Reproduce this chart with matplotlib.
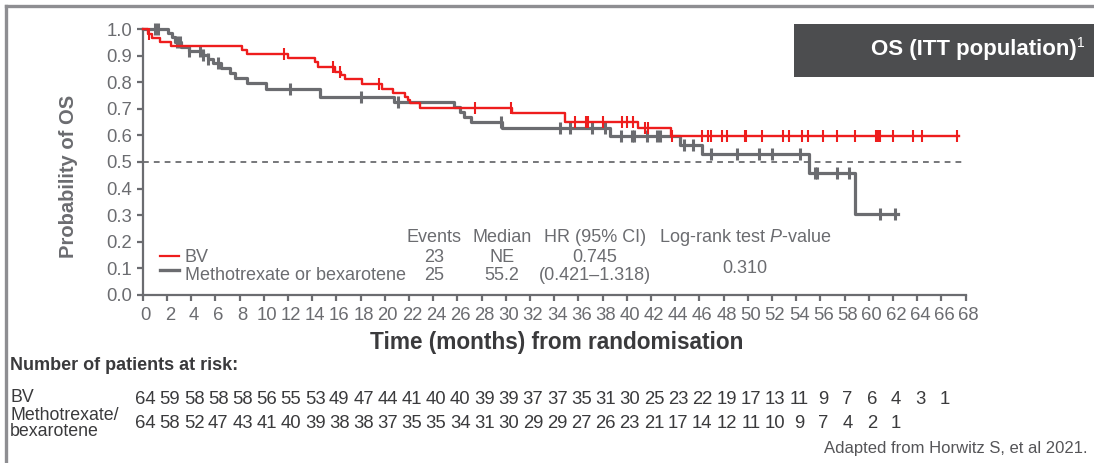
import numpy as np
import matplotlib
matplotlib.use("Agg")
import matplotlib.pyplot as plt
from matplotlib.lines import Line2D
from matplotlib.patches import Rectangle
import matplotlib.transforms as mtransforms

plt.rcParams['font.family'] = ['Liberation Sans', 'DejaVu Sans']
plt.rcParams['mathtext.fontset'] = 'custom'
plt.rcParams['mathtext.rm'] = 'Liberation Sans'
plt.rcParams['mathtext.it'] = 'Liberation Sans:italic'

# ---------------- data ----------------
bv_event_times = [0.46, 0.75, 1.4, 2.3, 8.2, 8.6, 12.0, 14.2, 14.5, 15.9, 16.4, 16.7, 18.1,
                  19.8, 20.7, 21.7, 21.9, 22.1, 22.9, 30.5, 34.9, 40.9, 43.7]
bv_surv = [0.984, 0.969, 0.953, 0.938, 0.922, 0.906, 0.891, 0.875, 0.859, 0.840, 0.828, 0.811,
           0.793, 0.774, 0.759, 0.746, 0.734, 0.723, 0.703, 0.683, 0.652, 0.627, 0.599]
bv_end = 67.5
bv_censor = [0.5, 11.7, 15.75, 16.3, 19.5, 27.5, 30.4, 35.7, 36.6, 36.7, 36.8, 38.0, 39.6, 40.0,
             40.5, 41.5, 41.8, 43.75, 46.2, 46.7, 47.0, 47.9, 48.3, 49.8, 49.9, 51.2, 52.9, 53.4,
             54.5, 55.0, 56.2, 57.4, 58.9, 60.6, 60.7, 60.8, 60.9, 62.0, 63.7, 64.4, 67.3]

mb_event_times = [2.1, 2.4, 2.7, 3.2, 3.8, 5.0, 5.4, 5.8, 6.5, 7.2, 7.6, 8.6, 10.2, 14.65, 20.8,
                  25.7, 26.2, 26.55, 27.1, 29.7, 38.6, 44.4, 46.2, 55.1, 58.9]
mb_surv = [0.985, 0.970, 0.953, 0.934, 0.919, 0.903, 0.887, 0.872, 0.853, 0.834, 0.815, 0.797,
           0.774, 0.746, 0.727, 0.708, 0.690, 0.671, 0.652, 0.627, 0.598, 0.564, 0.529, 0.457, 0.305]
mb_end = 62.4
mb_censor = [1.0, 1.3, 2.8, 3.1, 3.8, 4.7, 5.0, 5.4, 6.25, 12.2, 18.0, 21.1, 29.6, 34.5, 35.3,
             37.1, 38.2, 39.5, 40.4, 40.6, 41.7, 42.5, 42.75, 44.7, 45.5, 47.0, 49.1, 50.9, 52.0,
             54.3, 55.6, 55.7, 57.4, 58.4, 60.9, 62.2]

x_ticks = list(range(0, 69, 2))
y_ticks = [0.0, 0.1, 0.2, 0.3, 0.4, 0.5, 0.6, 0.7, 0.8, 0.9, 1.0]

risk_bv = [64, 59, 58, 58, 58, 56, 55, 53, 49, 47, 44, 41, 40, 40, 39, 39, 37, 37, 35, 31, 30,
           25, 23, 22, 19, 17, 13, 11, 9, 7, 6, 4, 3, 1]
risk_mb = [64, 58, 52, 47, 43, 41, 40, 39, 38, 38, 37, 35, 35, 34, 31, 30, 29, 29, 27, 26, 23,
           21, 17, 14, 12, 11, 10, 9, 7, 4, 2, 1]
risk_times_bv = list(range(0, 2 * len(risk_bv), 2))
risk_times_mb = list(range(0, 2 * len(risk_mb), 2))

stats_header = ["Events", "Median", "HR (95% CI)", "Log-rank test $P$-value"]
stats_bv = ["23", "NE", "0.745"]
stats_mb = ["25", "55.2", "(0.421\u20131.318)"]
p_value = "0.310"

RED = "#ee1d1d"
GRAY = "#6b6c70"
TXT = "#6b6c70"
DARK = "#3a3a3c"

W, H = 1094, 463
fig = plt.figure(figsize=(W / 100, H / 100), dpi=100)

def fx(x):
    return x / W

def fy(y):
    return 1 - y / H

ax = fig.add_axes([fx(142.7), fy(294.7), fx(965.5) - fx(142.7), fy(29.3) - fy(294.7)])
ax.set_xlim(0, 68)
ax.set_ylim(0, 1)
for s in ['top', 'right']:
    ax.spines[s].set_visible(False)
for s in ['left', 'bottom']:
    ax.spines[s].set_color(GRAY)
    ax.spines[s].set_linewidth(1.6)

ax.set_xticks(x_ticks)
ax.set_xticklabels([str(t) for t in x_ticks])
ax.set_yticks(y_ticks)
ax.set_yticklabels([f"{v:.1f}" for v in y_ticks])
ax.tick_params(axis='x', colors=GRAY, labelcolor=TXT, labelsize=13.3, length=4, width=1.6, pad=5)
ax.tick_params(axis='y', colors=GRAY, labelcolor=TXT, labelsize=13.3, length=4.5, width=1.6, pad=3)
xoff = mtransforms.ScaledTranslation(3 / 100, 0, fig.dpi_scale_trans)
for lab in ax.get_xticklabels():
    lab.set_transform(lab.get_transform() + xoff)

# median reference line
ax.plot([0, 68], [0.5, 0.5], ls=(0, (3.2, 2.8)), color=GRAY, lw=1.3, zorder=1)

def km_xy(times, surv, end):
    xs = [0.0] + list(times) + [end]
    ys = [1.0] + list(surv) + [surv[-1]]
    return np.array(xs), np.array(ys)

def censor_y(times, surv, ct):
    t = np.asarray(times)
    s = np.concatenate([[1.0], np.asarray(surv)])
    idx = np.searchsorted(t, np.asarray(ct), side='right')
    return s[idx]

mx, my = km_xy(mb_event_times, mb_surv, mb_end)
ax.step(mx, my, where='post', color=GRAY, lw=2.3, zorder=2, clip_on=False)
ax.plot(mb_censor, censor_y(mb_event_times, mb_surv, mb_censor), ls='none', marker='|',
        ms=9, mew=2.2, color=GRAY, zorder=2, clip_on=False)

bx, by = km_xy(bv_event_times, bv_surv, bv_end)
ax.step(bx, by, where='post', color=RED, lw=1.7, zorder=3, clip_on=False)
ax.plot(bv_censor, censor_y(bv_event_times, bv_surv, bv_censor), ls='none', marker='|',
        ms=9, mew=1.5, color=RED, zorder=3, clip_on=False)

# axis titles
fig.text(fx(69), fy(176), "Probability of OS", rotation=90, ha='center', va='center',
         fontsize=14.5, fontweight='bold', color=TXT)
fig.text(fx(557), fy(343), "Time (months) from randomisation", ha='center', va='center',
         fontsize=16.3, fontweight='bold', color=DARK)

# legend
fig.add_artist(Line2D([fx(160), fx(179)], [fy(255.5), fy(255.5)], color=RED, lw=1.6))
fig.add_artist(Line2D([fx(160), fx(179)], [fy(270), fy(270)], color=GRAY, lw=2.4))
fig.text(fx(185), fy(257), "BV", ha='left', va='center', fontsize=13, color=TXT)
fig.text(fx(185), fy(275.5), "Methotrexate or bexarotene", ha='left', va='center',
         fontsize=13, color=TXT)

# stats block
col_x = [434, 502, 595, 745]
for cx, s in zip(col_x, stats_header):
    fig.text(fx(cx), fy(237), s, ha='center', va='center', fontsize=13, color=TXT)
for cx, s in zip(col_x[:3], stats_bv):
    fig.text(fx(cx), fy(257), s, ha='center', va='center', fontsize=13, color=TXT)
for cx, s in zip(col_x[:3], stats_mb):
    fig.text(fx(cx), fy(275.5), s, ha='center', va='center', fontsize=13, color=TXT)
fig.text(fx(745), fy(268.5), p_value, ha='center', va='center', fontsize=13, color=TXT)

# title box
fig.add_artist(Rectangle((fx(794), fy(76.7)), fx(W) - fx(794) + 0.01, fy(24) - fy(76.7),
                         facecolor="#4c4d4f", edgecolor='none', transform=fig.transFigure))
fig.text(fx(1077), fy(49), "OS (ITT population)", ha='right', va='center', fontsize=16,
         fontweight='bold', color='white')
fig.text(fx(1077.5), fy(43), "1", ha='left', va='center', fontsize=10, color='white')

# slide frame
fig.add_artist(Line2D([fx(5.5), fx(W)], [fy(5.5), fy(5.5)], color="#8e8e92", lw=2.4))
fig.add_artist(Line2D([fx(5.5), fx(5.5)], [fy(5.5), fy(H)], color="#8e8e92", lw=2.4))

# risk table
fig.text(fx(10), fy(366), "Number of patients at risk:", ha='left', va='center', fontsize=13,
         fontweight='bold', color=DARK)
fig.text(fx(10), fy(398), "BV", ha='left', va='center', fontsize=12.8, color=DARK)
fig.text(fx(10), fy(415), "Methotrexate/", ha='left', va='center', fontsize=12.8, color=DARK)
fig.text(fx(10), fy(431), "bexarotene", ha='left', va='center', fontsize=12.8, color=DARK)

trans = mtransforms.blended_transform_factory(ax.transData, fig.transFigure)
off = mtransforms.ScaledTranslation(3 / 100, 0, fig.dpi_scale_trans)
for t, n in zip(risk_times_bv, risk_bv):
    ax.text(t, fy(399), str(n), transform=trans + off, ha='center', va='center',
            fontsize=13.3, color=DARK, clip_on=False)
for t, n in zip(risk_times_mb, risk_mb):
    ax.text(t, fy(424), str(n), transform=trans + off, ha='center', va='center',
            fontsize=13.3, color=DARK, clip_on=False)

fig.text(fx(1088), fy(449), "Adapted from Horwitz S, et al 2021.", ha='right', va='center',
         fontsize=12, color="#555558")

fig.savefig("out.png", dpi=100)
